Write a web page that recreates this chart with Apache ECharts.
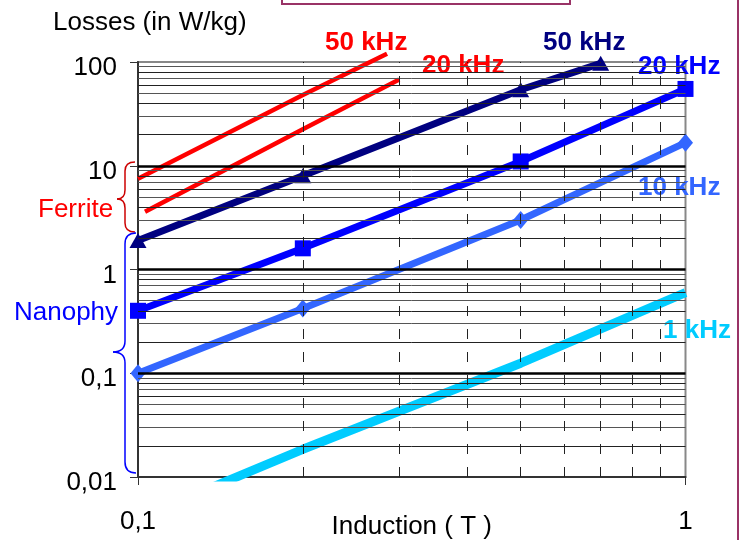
<!DOCTYPE html>
<html>
<head>
<meta charset="utf-8">
<script src="https://cdn.jsdelivr.net/npm/echarts@6/dist/echarts.min.js"></script>
<style>
  html, body { margin: 0; padding: 0; background: #fff; }
  #chart { width: 748px; height: 540px; }
</style>
</head>
<body>
<div id="chart"></div>
<script>
// Induction (T) and losses (W/kg)
var nanoX = [0.1, 0.2, 0.5, 1];
var nano50X = [0.1, 0.2, 0.5, 0.7];
var nano50k = [1.9, 8, 54, 97];
var nano20k = [0.4, 1.6, 11, 55];
var nano10k = [0.1, 0.42, 3.0, 16.7];
var nano1k = [0.004, 0.0185, 0.125, 0.6];
var ferrite50X = [0.1, 0.2, 0.285];
var ferrite50k = [7.5, 48, 120];
var ferrite20X = [0.103, 0.2, 0.3];
var ferrite20k = [3.6, 22.5, 68];

var decades = [0.01, 0.1, 1, 10];
var majorY = [0.1, 1, 10];
var minorX = [0.2, 0.3, 0.4, 0.5, 0.6, 0.7, 0.8, 0.9];

var FONT = '"Liberation Sans", Arial, sans-serif';

function pairs(xs, ys) {
    return xs.map(function (x, i) { return [x, ys[i]]; });
}

function comma(v) {
    return String(+(+v).toPrecision(6)).replace('.', ',');
}

// grid lines of the log/log plot
var gridLines = [];
decades.forEach(function (d) {
    for (var m = 2; m <= 9; m++) {
        gridLines.push({ yAxis: d * m, lineStyle: { color: m % 2 ? '#555' : '#222', width: 1, type: 'solid' } });
    }
});
majorY.forEach(function (v) {
    gridLines.push({ yAxis: v, lineStyle: { color: '#000', width: 2.5, type: 'solid' } });
});
minorX.forEach(function (v) {
    gridLines.push({ xAxis: v, lineStyle: { color: '#222', width: 1, type: [10, 13] } });
});

function lineSeries(name, data, color, width, symbol, size, clip) {
    return {
        name: name,
        type: 'line',
        data: data,
        symbol: symbol || 'none',
        symbolSize: size || 0,
        showSymbol: !!symbol,
        clip: clip,
        z: 3,
        lineStyle: { color: color, width: width },
        itemStyle: { color: color },
        silent: true
    };
}

// curly brace pointing left, built from curves and straight pieces
function brace(xEnd, xSpine, xTip, yTop, yMid, yBot, r, color) {
    var st = { stroke: color, lineWidth: 1.5, fill: null };
    return [
        { type: 'bezierCurve', shape: { x1: xEnd, y1: yTop, cpx1: xSpine, cpy1: yTop, x2: xSpine, y2: yTop + r }, style: st },
        { type: 'line', shape: { x1: xSpine, y1: yTop + r, x2: xSpine, y2: yMid - r }, style: st },
        { type: 'bezierCurve', shape: { x1: xSpine, y1: yMid - r, cpx1: xSpine, cpy1: yMid, x2: xTip, y2: yMid }, style: st },
        { type: 'bezierCurve', shape: { x1: xTip, y1: yMid, cpx1: xSpine, cpy1: yMid, x2: xSpine, y2: yMid + r }, style: st },
        { type: 'line', shape: { x1: xSpine, y1: yMid + r, x2: xSpine, y2: yBot - r }, style: st },
        { type: 'bezierCurve', shape: { x1: xSpine, y1: yBot - r, cpx1: xSpine, cpy1: yBot, x2: xEnd, y2: yBot }, style: st }
    ];
}

var chart = echarts.init(document.getElementById('chart'), null, { renderer: 'canvas' });

var labels = [
    { type: 'text', x: 53, y: 23, style: { text: 'Losses (in W/kg)', fill: '#000', font: '26px ' + FONT, textVerticalAlign: 'middle' } },
    { type: 'text', x: 325, y: 43, style: { text: '50 kHz', fill: '#FF0000', font: 'bold 26px ' + FONT, textVerticalAlign: 'middle' } },
    { type: 'text', x: 422, y: 66, style: { text: '20 kHz', fill: '#FF0000', font: 'bold 26px ' + FONT, textVerticalAlign: 'middle' } },
    { type: 'text', x: 543, y: 43, style: { text: '50 kHz', fill: '#000080', font: 'bold 26px ' + FONT, textVerticalAlign: 'middle' } },
    { type: 'text', x: 638, y: 67, style: { text: '20 kHz', fill: '#0000FF', font: 'bold 26px ' + FONT, textVerticalAlign: 'middle' } },
    { type: 'text', x: 638, y: 188, style: { text: '10 kHz', fill: '#3366FF', font: 'bold 26px ' + FONT, textVerticalAlign: 'middle' } },
    { type: 'text', x: 663, y: 331, style: { text: '1 kHz', fill: '#00CCFF', font: 'bold 26px ' + FONT, textVerticalAlign: 'middle' } },
    { type: 'text', x: 38, y: 210, style: { text: 'Ferrite', fill: '#FF0000', font: '26px ' + FONT, textVerticalAlign: 'middle' } },
    { type: 'text', x: 14, y: 313, style: { text: 'Nanophy', fill: '#0000FF', font: '26px ' + FONT, textVerticalAlign: 'middle' } },
    // slide frame pieces
    { type: 'rect', shape: { x: 282, y: -10, width: 288, height: 14 }, style: { fill: null, stroke: '#993366', lineWidth: 2 } },
    { type: 'line', shape: { x1: 738, y1: 0, x2: 738, y2: 540 }, style: { stroke: '#993366', lineWidth: 2 } }
];

var option = {
    animation: false,
    grid: {
        left: 138, right: 62.5, top: 62, bottom: 63,
        outerBoundsMode: 'none',
        containLabel: false,
        show: true, borderColor: '#888', borderWidth: 2, backgroundColor: 'transparent'
    },
    xAxis: {
        type: 'log', logBase: 10, min: 0.1, max: 1,
        name: 'Induction ( T )', nameLocation: 'middle', nameGap: 37,
        nameMoveOverlap: false,
        nameTextStyle: { fontFamily: FONT, fontSize: 26, color: '#000' },
        axisLine: { show: true, lineStyle: { color: '#333', width: 2 } },
        axisTick: { show: true, length: 8, lineStyle: { color: '#333', width: 1 } },
        axisLabel: { margin: 32, fontFamily: FONT, fontSize: 26, color: '#000', formatter: comma },
        splitLine: { show: false }
    },
    yAxis: {
        type: 'log', logBase: 10, min: 0.01, max: 100,
        axisLine: { show: true, lineStyle: { color: '#333', width: 2 } },
        axisTick: { show: true, length: 8, lineStyle: { color: '#333', width: 1 } },
        axisLabel: {
            margin: 21, fontFamily: FONT, fontSize: 26, color: '#000', formatter: comma,
            verticalAlign: 'top', lineHeight: 12
        },
        splitLine: { show: false }
    },
    series: [
        {
            name: 'grid', type: 'line', data: [], z: 1, silent: true,
            markLine: { silent: true, symbol: 'none', label: { show: false }, animation: false, data: gridLines }
        },
        lineSeries('Nanophy 1 kHz', pairs(nanoX, nano1k), '#00CCFF', 9, null, 0, true),
        lineSeries('Nanophy 10 kHz', pairs(nanoX, nano10k), '#3366FF', 7, 'diamond', [15, 18], false),
        lineSeries('Nanophy 20 kHz', pairs(nanoX, nano20k), '#0000FF', 7, 'rect', 16, false),
        lineSeries('Nanophy 50 kHz', pairs(nano50X, nano50k), '#000080', 7, 'triangle', [17, 15], false),
        lineSeries('Ferrite 20 kHz', pairs(ferrite20X, ferrite20k), '#FF0000', 4.5, null, 0, false),
        lineSeries('Ferrite 50 kHz', pairs(ferrite50X, ferrite50k), '#FF0000', 4.5, null, 0, false)
    ],
    graphic: labels
        .concat(brace(135, 125, 117, 162, 199, 232, 9, '#CC0000'))
        .concat(brace(136, 125, 113, 233, 352, 473, 11, '#0000FF'))
};

chart.setOption(option);
</script>
</body>
</html>
